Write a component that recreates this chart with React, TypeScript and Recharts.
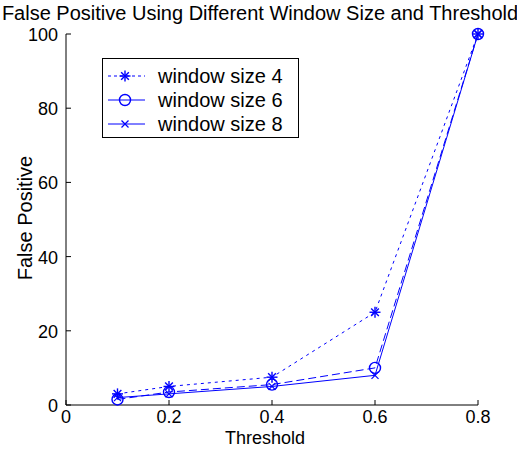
import React from 'react'
import { LineChart, Line, XAxis, YAxis } from 'recharts'

const thresholds = [0.1, 0.2, 0.4, 0.6, 0.8]
const window4 = [3, 5, 7.5, 25, 100]
const window6 = [1.5, 3.5, 5.5, 10, 100]
const window8 = [2, 3, 5, 8, 100]
const xTicks = [0, 0.2, 0.4, 0.6, 0.8]
const yTicks = [0, 20, 40, 60, 80, 100]

const data = thresholds.map((t, i) => ({
  t,
  w4: window4[i],
  w6: window6[i],
  w8: window8[i],
}))

const BLUE = '#0000ff'
const FONT = '"Liberation Sans", Arial, sans-serif'
const TICK = 5

const Star = ({ cx, cy, r = 5.5 }: any) => (
  <g stroke={BLUE} strokeWidth={1.4}>
    <line x1={cx - r} y1={cy} x2={cx + r} y2={cy} />
    <line x1={cx} y1={cy - r} x2={cx} y2={cy + r} />
    <line x1={cx - r * 0.7} y1={cy - r * 0.7} x2={cx + r * 0.7} y2={cy + r * 0.7} />
    <line x1={cx - r * 0.7} y1={cy + r * 0.7} x2={cx + r * 0.7} y2={cy - r * 0.7} />
  </g>
)

const Circ = ({ cx, cy, r = 5.5 }: any) => (
  <circle cx={cx} cy={cy} r={r} fill="none" stroke={BLUE} strokeWidth={1.4} />
)

const Cross = ({ cx, cy, r = 3.5 }: any) => (
  <g stroke={BLUE} strokeWidth={1.2}>
    <line x1={cx - r} y1={cy - r} x2={cx + r} y2={cy + r} />
    <line x1={cx - r} y1={cy + r} x2={cx + r} y2={cy - r} />
  </g>
)

const dotFn = (Shape: any) => (props: any) => (
  <Shape key={`d-${props.index}`} cx={props.cx} cy={props.cy} />
)

// ticks point inward like the original plot
const BottomTick = ({ x, y, payload }: any) => (
  <g>
    <line x1={x} y1={y} x2={x} y2={y - TICK} stroke="#000" />
    <text x={x} y={y + 18} textAnchor="middle" fontSize={18} fontFamily={FONT} fill="#000">
      {payload.value}
    </text>
  </g>
)
const TopTick = ({ x, y }: any) => (
  <line x1={x} y1={y} x2={x} y2={y + TICK} stroke="#000" />
)
const LeftTick = ({ x, y, payload }: any) => (
  <g>
    <line x1={x} y1={y} x2={x + TICK} y2={y} stroke="#000" />
    <text x={x - 8} y={y + 7} textAnchor="end" fontSize={18} fontFamily={FONT} fill="#000">
      {payload.value}
    </text>
  </g>
)
const RightTick = ({ x, y }: any) => (
  <line x1={x} y1={y} x2={x - TICK} y2={y} stroke="#000" />
)

const legendRows = [
  { name: 'window size 4', dash: '3 3', Shape: Star },
  { name: 'window size 6', dash: undefined, Shape: Circ },
  { name: 'window size 8', dash: undefined, Shape: Cross },
]

const LegendBox = () => (
  <div
    style={{
      position: 'absolute',
      left: 102,
      top: 58,
      width: 195,
      height: 78,
      border: '1px solid #000',
      background: '#fff',
      fontFamily: FONT,
      fontSize: 20,
    }}
  >
    {legendRows.map((r, i) => (
      <div key={r.name} style={{ display: 'flex', alignItems: 'center', height: 24, marginTop: i === 0 ? 5 : 0 }}>
        <svg width={55} height={20}>
          <line x1={5} y1={10} x2={42} y2={10} stroke={BLUE} strokeDasharray={r.dash} />
          <r.Shape cx={22} cy={10} />
        </svg>
        <span style={{ color: '#000', lineHeight: '24px' }}>{r.name}</span>
      </div>
    ))}
  </div>
)

export default function App() {
  return (
    <div style={{ position: 'absolute', left: 0, top: 0, width: 517, height: 449, background: '#fff' }}>
      <LineChart
        width={517}
        height={449}
        data={data}
        margin={{ top: 34, right: 39, bottom: 0, left: 0 }}
      >
        <XAxis
          xAxisId="b"
          type="number"
          dataKey="t"
          domain={[0, 0.8]}
          ticks={xTicks}
          height={44}
          tickSize={0}
          tickMargin={0}
          tickLine={false}
          axisLine={{ stroke: '#000' }}
          tick={<BottomTick />}
          interval={0}
        />
        <XAxis
          xAxisId="t"
          orientation="top"
          type="number"
          dataKey="t"
          domain={[0, 0.8]}
          ticks={xTicks}
          height={0}
          tickSize={0}
          tickMargin={0}
          tickLine={false}
          axisLine={{ stroke: '#000' }}
          tick={<TopTick />}
          interval={0}
        />
        <YAxis
          yAxisId="l"
          type="number"
          domain={[0, 100]}
          ticks={yTicks}
          width={66}
          tickSize={0}
          tickMargin={0}
          tickLine={false}
          axisLine={{ stroke: '#000' }}
          tick={<LeftTick />}
          interval={0}
        />
        <YAxis
          yAxisId="r"
          orientation="right"
          type="number"
          domain={[0, 100]}
          ticks={yTicks}
          width={0}
          tickSize={0}
          tickMargin={0}
          tickLine={false}
          axisLine={{ stroke: '#000' }}
          tick={<RightTick />}
          interval={0}
        />
        <Line
          xAxisId="b"
          yAxisId="l"
          dataKey="w4"
          stroke={BLUE}
          strokeWidth={1}
          strokeDasharray="3 4"
          dot={dotFn(Star)}
          isAnimationActive={false}
        />
        <Line
          xAxisId="b"
          yAxisId="l"
          dataKey="w6"
          stroke={BLUE}
          strokeWidth={1}
          strokeDasharray="8 4"
          dot={dotFn(Circ)}
          isAnimationActive={false}
        />
        <Line
          xAxisId="b"
          yAxisId="l"
          dataKey="w8"
          stroke={BLUE}
          strokeWidth={1}
          dot={dotFn(Cross)}
          isAnimationActive={false}
        />
        <text x={260} y={20} textAnchor="middle" fontSize={20} fontFamily={FONT} fill="#000">
          False Positive Using Different Window Size and Threshold
        </text>
        <text x={265} y={444} textAnchor="middle" fontSize={18} fontFamily={FONT} fill="#000">
          Threshold
        </text>
        <text
          x={0}
          y={0}
          transform="translate(32 218) rotate(-90)"
          textAnchor="middle"
          fontSize={20}
          fontFamily={FONT}
          fill="#000"
        >
          False Positive
        </text>
      </LineChart>
      <LegendBox />
    </div>
  )
}
